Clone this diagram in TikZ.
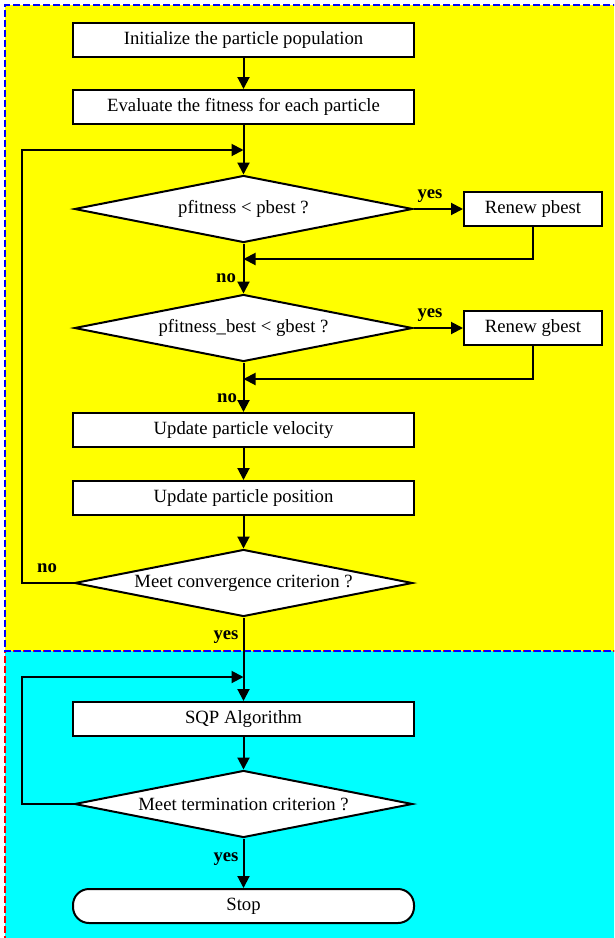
\documentclass[tikz,border=0pt]{standalone}
\usepackage{fontspec}
\setmainfont{Liberation Serif}
\usetikzlibrary{shapes.geometric,arrows.meta}
\definecolor{bgyellow}{RGB}{255,255,0}
\definecolor{bgcyan}{RGB}{0,255,255}
\definecolor{dashblue}{RGB}{0,0,255}
\definecolor{dashred}{RGB}{255,0,0}
\tikzset{
  px/.style={x=1pt,y=-1pt},
  base/.style={font=\fontsize{18.7}{22}\selectfont, text=black},
  procbox/.style={base, draw=black, line width=2pt, fill=white, minimum width=341pt, minimum height=34pt, inner sep=0pt},
  sidebox/.style={procbox, minimum width=138pt},
  decbox/.style={base, shape=diamond, draw=black, line width=2pt, fill=white, shape aspect=5, minimum width=338pt, minimum height=67pt, inner sep=0pt},
  stopbox/.style={procbox, rounded corners=16pt},
  arr/.style={draw=black, line width=2pt, -{Triangle[length=12pt,width=12pt]}},
  lbl/.style={base, font=\fontsize{18.7}{22}\selectfont\bfseries, anchor=base, inner sep=0pt},
  bluedash/.style={draw=dashblue, line width=1.8pt, dash pattern=on 7pt off 3pt},
  reddash/.style={draw=dashred, line width=1.8pt, dash pattern=on 7pt off 3pt}
}
\begin{document}
\begin{tikzpicture}[px]
\useasboundingbox (0,0) rectangle (614,938);
\begin{scope}
\clip (0,0) rectangle (614,938);
\fill[white] (0,0) rectangle (614,938);
\fill[bgcyan] (5,651) rectangle (640,960);
\fill[bgyellow] (5,5) rectangle (640,651);
\draw[reddash] (640,651) -- (5,651) -- (5,960);
\draw[bluedash] (640,5) -- (5,5) -- (5,651) -- (640,651);
\end{scope}

\node[procbox] (init) at (243.5,39.5) {Initialize the particle population};
\node[procbox] (eval) at (243.5,107) {Evaluate the fitness for each particle};
\node[decbox] (d1) at (243.5,209) {pfitness < pbest ?};
\node[sidebox] (rp) at (533,209) {Renew pbest};
\node[decbox] (d2) at (243.5,328) {pfitness\_best < gbest ?};
\node[sidebox] (rg) at (533,328) {Renew gbest};
\node[procbox] (vel) at (243.5,430) {Update particle velocity};
\node[procbox] (pos) at (243.5,498) {Update particle position};
\node[decbox] (d3) at (243.5,583) {Meet convergence criterion ?};
\node[procbox] (sqp) at (243.5,719) {SQP Algorithm};
\node[decbox] (d4) at (243.5,804) {Meet termination criterion ?};
\node[stopbox] (stop) at (243.5,906) {Stop};

\coordinate (j0) at (243.5,150);
\coordinate (c0) at (22,150);
\coordinate (j1) at (243.5,259);
\coordinate (j2) at (243.5,379);
\coordinate (j3) at (243.5,677);
\coordinate (c3) at (22,677);

\draw[arr] (init) -- (eval);
\draw[arr] (eval) -- (d1);
\draw[arr] (d1.east) -- (rp.west);
\draw[arr] (rp.south) |- (j1);
\draw[arr] (d1.south) -- (d2.north);
\draw[arr] (d2.east) -- (rg.west);
\draw[arr] (rg.south) |- (j2);
\draw[arr] (d2.south) -- (vel.north);
\draw[arr] (vel) -- (pos);
\draw[arr] (pos) -- (d3);
\draw[arr] (d3.west) -| (c0) -- (j0);
\draw[arr] (d3.south) -- (sqp.north);
\draw[arr] (sqp) -- (d4);
\draw[arr] (d4.west) -| (c3) -- (j3);
\draw[arr] (d4.south) -- (stop.north);

\node[lbl] (y1) at (430,198) {yes};
\node[lbl] (n1) at (226,282) {no};
\node[lbl] (y2) at (430,317) {yes};
\node[lbl] (n2) at (227,402) {no};
\node[lbl] (n3) at (47,572) {no};
\node[lbl] (y3) at (226,639) {yes};
\node[lbl] (y4) at (226,861) {yes};
\end{tikzpicture}
\end{document}
